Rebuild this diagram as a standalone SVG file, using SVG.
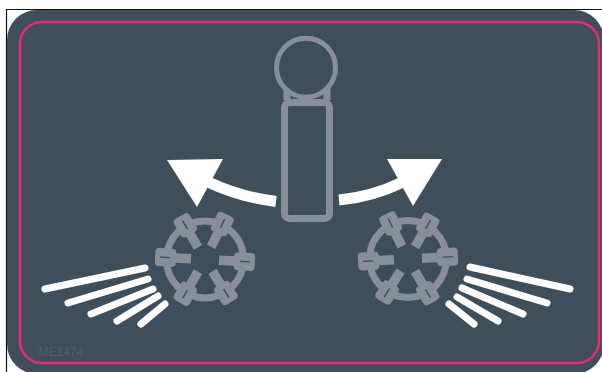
<svg xmlns="http://www.w3.org/2000/svg" width="602" height="372" viewBox="0 0 602 372">
<style>
.gray{fill:none;stroke:#888f98;stroke-width:7}
.spoke{stroke:#888f98;stroke-width:9.5;fill:none}
.head{fill:#888f98}
.slit{stroke:#3f4e5b;stroke-width:1.4;fill:none}
.streak{stroke:#fff;stroke-width:7;stroke-linecap:round;fill:none}
.arc{stroke:#fff;stroke-width:11;fill:none}
</style>
<defs>
<g id="sp"><path class="spoke" d="M0 -14V-40"/><rect class="head" x="-9" y="-50" width="18" height="21" rx="4"/><path class="slit" d="M0 -45V-35"/></g>
<g id="wheel">
<circle class="gray" cx="0" cy="0" r="38.5"/>
<use href="#sp" transform="rotate(-30)"/>
<use href="#sp" transform="rotate(26)"/>
<use href="#sp" transform="rotate(93)"/>
<use href="#sp" transform="rotate(148)"/>
<use href="#sp" transform="rotate(210)"/>
<use href="#sp" transform="rotate(273)"/>
</g>
</defs>
<rect width="602" height="372" fill="#fff"/>
<g id="panel">
<path d="M6.5 372V9.5H602" fill="none" stroke="#111" stroke-width="1.2"/>
<rect x="7" y="10" width="597" height="364" rx="30" fill="#3f4e5b"/>
<rect x="20" y="22" width="579" height="341" rx="22" fill="none" stroke="#e62a76" stroke-width="2.6"/>
<text x="38.5" y="356" font-family="Liberation Sans, Arial, sans-serif" font-size="12" fill="#51606d">ME1474</text>
</g>
<g id="lever">
<path class="gray" d="M287 86V100M327 86V100"/>
<circle cx="306" cy="67.7" r="29.5" fill="#3f4e5b" stroke="#888f98" stroke-width="5"/>
<rect class="gray" x="284.5" y="102.5" width="45" height="116" rx="5"/>
</g>
<g id="wheel-left"><use href="#wheel" transform="translate(205,259.5)"/></g>
<g id="wheel-right"><use href="#wheel" transform="translate(408,259) scale(-1,1)"/></g>
<g id="streaks-left">
<path class="streak" d="M45 289L145 268M68 303L148 279M91 314L153 289M117 321L158 296M141 324L165 304"/>
</g>
<g id="streaks-right">
<path class="streak" d="M470 267L570 289M467 279L547 303M462 288L523 314M457 297L498 321M449 304L474 324"/>
</g>
<g id="connectors">
<path class="arc" d="M276 201.5Q240 197 208 182"/>
<polygon points="167,160 223,159 197,207" fill="#fff"/>
<path class="arc" d="M339 200Q372 197 403 182"/>
<polygon points="387,159 442,159 413,206" fill="#fff"/>
</g>
</svg>
